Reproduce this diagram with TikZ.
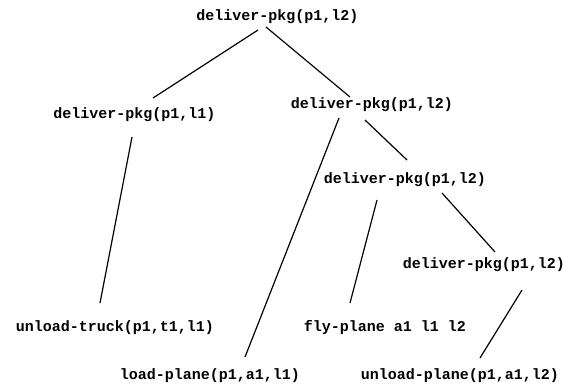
\documentclass[tikz,border=0pt]{standalone}
\usepackage{fontspec}
\setmonofont{Liberation Mono}
\begin{document}
\begin{tikzpicture}[x=1pt, y=-1pt]
		\tikzset{op/.style={font=\ttfamily\bfseries\fontsize{15}{15}\selectfont, inner sep=0pt}};
		\tikzset{br/.style={line width=1.2pt}};

		\useasboundingbox (0,0) rectangle (569,391);

		\node[op] (root) at (277.5, 17) {deliver-pkg(p1,l2)};
		\node[op] (l1) at (134.5, 115) {deliver-pkg(p1,l1)};
		\node[op] (r1) at (372, 105) {deliver-pkg(p1,l2)};
		\node[op] (r2) at (405, 180) {deliver-pkg(p1,l2)};
		\node[op] (r3) at (484, 265) {deliver-pkg(p1,l2)};
		\node[op] (ut) at (115, 328) {unload-truck(p1,t1,l1)};
		\node[op] (fp) at (385, 328) {fly-plane a1 l1 l2};
		\node[op] (lp) at (210, 376) {load-plane(p1,a1,l1)};
		\node[op] (up) at (460, 376) {unload-plane(p1,a1,l2)};

		\draw[br] ([shift={(-19.5,13)}]root.center) -- ([shift={(18.5,-17)}]l1.center);
		\draw[br] ([shift={(-11.5,10)}]root.center) -- ([shift={(-22,-8)}]r1.center);

		\draw[br] ([shift={(-2.5,22)}]l1.center) -- ([shift={(-15,-25)}]ut.center);

		\draw[br] ([shift={(-33,13)}]r1.center) -- ([shift={(35,-19)}]lp.center);
		\draw[br] ([shift={(-7,15)}]r1.center) -- ([shift={(2,-20)}]r2.center);

		\draw[br] ([shift={(-28,20)}]r2.center) -- ([shift={(-35,-25)}]fp.center);
		\draw[br] ([shift={(37,13)}]r2.center) -- ([shift={(11,-13)}]r3.center);

		\draw[br] ([shift={(38,25)}]r3.center) -- ([shift={(20,-18)}]up.center);

	\end{tikzpicture}
\end{document}
